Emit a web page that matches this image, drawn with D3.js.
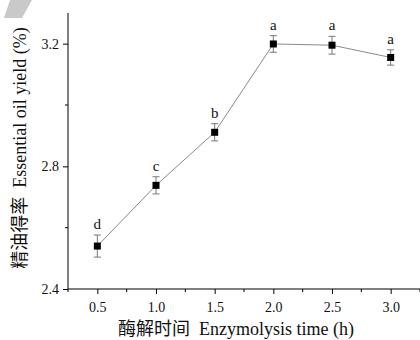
<!DOCTYPE html>
<html>
<head>
<meta charset="utf-8">
<script src="https://cdn.jsdelivr.net/npm/d3@7"></script>
<style>
  body { margin: 0; background: #fff; }
  text { font-family: "Liberation Serif", "Times New Roman", serif; fill: #111; }
  .cjk { font-family: "Noto Sans CJK SC", sans-serif; }
</style>
</head>
<body>
<svg id="chart" width="420" height="340"></svg>
<script>
(function () {
    'use strict';

    // enzymolysis time (h) vs essential oil yield (%)
    const times = [0.5, 1.0, 1.5, 2.0, 2.5, 3.0];
    const yields = [2.54, 2.738, 2.911, 3.199, 3.195, 3.155];
    const errors = [0.036, 0.028, 0.028, 0.027, 0.029, 0.025];
    const letters = ['d', 'c', 'b', 'a', 'a', 'a'];

    const xTicks = [0.5, 1.0, 1.5, 2.0, 2.5, 3.0];
    const xMinor = [0.25, 0.75, 1.25, 1.75, 2.25, 2.75, 3.25];
    const yTicks = [2.4, 2.8, 3.2];
    const yMinor = [2.6, 3.0];

    const svg = d3.select('#chart');

    const margin = { top: 13, right: 0, bottom: 51, left: 68 };
    const width = 420, height = 340;

    const x = d3.scaleLinear()
        .domain([0.25, 3.25])
        .range([margin.left, width - margin.right]);

    const y = d3.scaleLinear()
        .domain([2.4, 3.3])
        .range([height - margin.bottom, margin.top]);

    // grey stroke in the corner of the scanned figure
    svg.append('polygon')
        .attr('points', '10,0 32,0 22,18 4,18')
        .style('fill', '#c9c9c9');

    // x axis
    const xAxis = d3.axisBottom(x)
        .tickValues(xTicks)
        .tickSize(5)
        .tickPadding(8)
        .tickFormat(d3.format('.1f'));

    const gx = svg.append('g')
        .attr('transform', `translate(0, ${y(2.4)})`)
        .call(xAxis);
    gx.select('.domain').attr('d', `M${x(0.25)},0H${x(3.25)}`);

    gx.selectAll('line.minor')
        .data(xMinor)
        .enter()
        .append('line')
        .attr('class', 'minor')
        .attr('x1', d => x(d)).attr('x2', d => x(d))
        .attr('y1', 0).attr('y2', 3)
        .style('stroke', '#000');

    // y axis
    const yAxis = d3.axisLeft(y)
        .tickValues(yTicks)
        .tickSize(5)
        .tickPadding(4)
        .tickFormat(d3.format('.1f'));

    const gy = svg.append('g')
        .attr('transform', `translate(${x(0.25)}, 0)`)
        .call(yAxis);
    gy.select('.domain').attr('d', `M0,${y(2.4)}V${y(3.3)}`);

    gy.selectAll('line.minor')
        .data(yMinor)
        .enter()
        .append('line')
        .attr('class', 'minor')
        .attr('x1', -3).attr('x2', 0)
        .attr('y1', d => y(d)).attr('y2', d => y(d))
        .style('stroke', '#000');

    svg.selectAll('.tick text')
        .style('font-family', '"Liberation Serif", serif')
        .style('font-size', '14px')
        .style('fill', '#111');
    svg.selectAll('.domain, .tick line').style('stroke', '#000');

    const data = times.map((t, i) => ({ t: t, v: yields[i], e: errors[i], l: letters[i] }));

    // connecting line
    svg.append('path')
        .datum(data)
        .attr('d', d3.line().x(d => x(d.t)).y(d => y(d.v)))
        .style('fill', 'none')
        .style('stroke', '#8a8a8a')
        .style('stroke-width', 1);

    // error bars
    const eb = svg.selectAll('g.err')
        .data(data)
        .enter()
        .append('g')
        .attr('class', 'err')
        .style('stroke', '#777')
        .style('stroke-width', 1);

    eb.append('line')
        .attr('x1', d => x(d.t)).attr('x2', d => x(d.t))
        .attr('y1', d => y(d.v + d.e)).attr('y2', d => y(d.v - d.e));
    eb.append('line')
        .attr('x1', d => x(d.t) - 3.5).attr('x2', d => x(d.t) + 3.5)
        .attr('y1', d => y(d.v + d.e)).attr('y2', d => y(d.v + d.e));
    eb.append('line')
        .attr('x1', d => x(d.t) - 3.5).attr('x2', d => x(d.t) + 3.5)
        .attr('y1', d => y(d.v - d.e)).attr('y2', d => y(d.v - d.e));

    // markers
    svg.selectAll('rect.pt')
        .data(data)
        .enter()
        .append('rect')
        .attr('class', 'pt')
        .attr('x', d => x(d.t) - 3.5)
        .attr('y', d => y(d.v) - 3.5)
        .attr('width', 7)
        .attr('height', 7)
        .style('fill', '#000');

    // significance letters
    svg.selectAll('text.sig')
        .data(data)
        .enter()
        .append('text')
        .attr('class', 'sig')
        .attr('x', d => x(d.t))
        .attr('y', d => y(d.v + d.e) - 6)
        .style('text-anchor', 'middle')
        .style('font-size', '15px')
        .text(d => d.l);

    // axis titles
    const xt = svg.append('text')
        .attr('x', 236)
        .attr('y', 335)
        .style('text-anchor', 'middle')
        .style('font-size', '18px');
    xt.append('tspan').attr('class', 'cjk').text('酶解时间');
    xt.append('tspan').text('\u00a0\u00a0Enzymolysis time (h)');

    const yt = svg.append('text')
        .attr('transform', 'translate(26, 148) rotate(-90)')
        .style('text-anchor', 'middle')
        .style('font-size', '18px');
    yt.append('tspan').attr('class', 'cjk').text('精油得率');
    yt.append('tspan').text('\u00a0\u00a0Essential oil yield (%)');
}());
</script>
</body>
</html>
